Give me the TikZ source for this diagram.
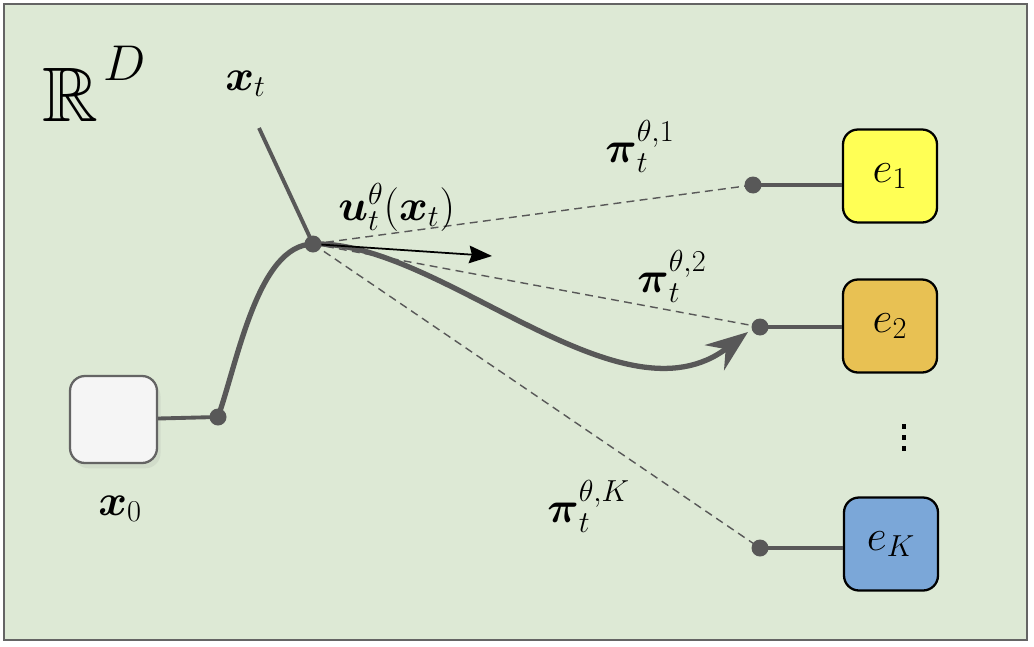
\documentclass[tikz,border=0pt]{standalone}
\usepackage{graphicx}
\usepackage{amsmath}
\usepackage{amssymb}
\usetikzlibrary{arrows.meta,shadows}

\definecolor{plane}{RGB}{221,233,213}
\definecolor{frame}{RGB}{100,100,100}
\definecolor{flow}{RGB}{88,88,88}
\definecolor{eone}{RGB}{255,255,85}
\definecolor{etwo}{RGB}{232,193,83}
\definecolor{ekay}{RGB}{123,167,216}
\definecolor{start}{RGB}{245,245,245}

\tikzset{
  expert/.style={draw=black, line width=1.3pt, rounded corners=0.3cm,
    minimum width=1.88cm, minimum height=1.86cm, inner sep=0pt,
    font=\fontsize{25}{30}\selectfont},
  lbl/.style={anchor=base west, inner sep=0pt, font=\fontsize{25}{30}\selectfont},
  guess/.style={flow, line width=0.8pt, dash pattern=on 4.5pt off 3pt},
  link/.style={flow, line width=2.2pt},
}

\begin{document}
\begin{tikzpicture}
    \useasboundingbox (0,0) rectangle (20.68,12.92);
    \draw[frame, line width=1.2pt, fill=plane] (0.08,0.12) rectangle (20.54,12.84);

    \node[anchor=base west, inner sep=0pt, font=\fontsize{44}{50}\selectfont] (space) at (0.84,10.5)
        {$\mathbb{R}$\hspace{0.1cm}\raisebox{0.8cm}{\fontsize{25}{30}\selectfont\scalebox{1.15}{$D$}}};

    % start point and the experts
    \node[draw=frame, line width=1.3pt, fill=start, rounded corners=0.3cm, minimum size=1.74cm,
          drop shadow={opacity=0.12, shadow xshift=2pt, shadow yshift=-3pt}] (x0) at (2.27,4.53) {};
    \node[expert, fill=eone] (e1) at (17.8,9.4) {$e_1$};
    \node[expert, fill=etwo] (e2) at (17.8,6.4) {$e_2$};
    \node[expert, fill=ekay] (eK) at (17.82,2.04) {$e_K$};

    \coordinate (p0) at (4.36,4.58);
    \coordinate (pt) at (6.26,8.04);
    \coordinate (top) at (5.18,10.36);
    \coordinate (p1) at (15.06,9.22);
    \coordinate (p2) at (15.2,6.38);
    \coordinate (pK) at (15.2,1.96);
    \coordinate (tip) at (14.96,6.28);
    \coordinate (uend) at (9.84,7.8);

    % guesses of the end point
    \draw[guess] (pt) -- (p1);
    \draw[guess] (pt) -- (p2);
    \draw[guess] (pt) -- (pK);

    \draw[link] (x0.east |- 0,4.55) -- (p0);
    \draw[link] (top) -- (pt);
    \draw[link] (p1) -- (p1 -| e1.west);
    \draw[link] (p2) -- (p2 -| e2.west);
    \draw[link] (pK) -- (pK -| eK.west);

    % trajectory
    \draw[flow, line width=3pt] (p0) .. controls (4.76,5.72) and (5.16,8.02) .. (pt);
    \draw[flow, line width=3pt, -{Stealth[length=24pt,width=18pt,inset=8pt]}]
        (pt) .. controls (8.8,8.12) and (12.4,4.32) .. (tip);
    \draw[black, line width=1pt, -{Stealth[length=13pt,width=10pt,inset=1.5pt]}] (pt) -- (uend);

    \foreach \p in {p0,pt,p1,p2,pK}
        \fill[flow] (\p) circle (0.17);

    % more experts
    \foreach \y in {4.34,4.12,3.9}
        \fill[black] (18.04,\y) rectangle ++(0.08,0.1);

    \node[lbl] (xt) at (4.5,11.12) {$\boldsymbol{x}_t$};
    \node[lbl] (xzero) at (1.96,2.62) {$\boldsymbol{x}_0$};
    \node[lbl] (ut) at (6.76,8.52) {$\boldsymbol{u}_t^{\theta}(\boldsymbol{x}_t)$};
    \node[lbl] (pi1) at (12.1,9.68) {$\boldsymbol{\pi}_t^{\theta,1}$};
    \node[lbl] (pi2) at (12.74,7.08) {$\boldsymbol{\pi}_t^{\theta,2}$};
    \node[lbl] (piK) at (10.94,2.48) {$\boldsymbol{\pi}_t^{\theta,K}$};
\end{tikzpicture}
\end{document}
